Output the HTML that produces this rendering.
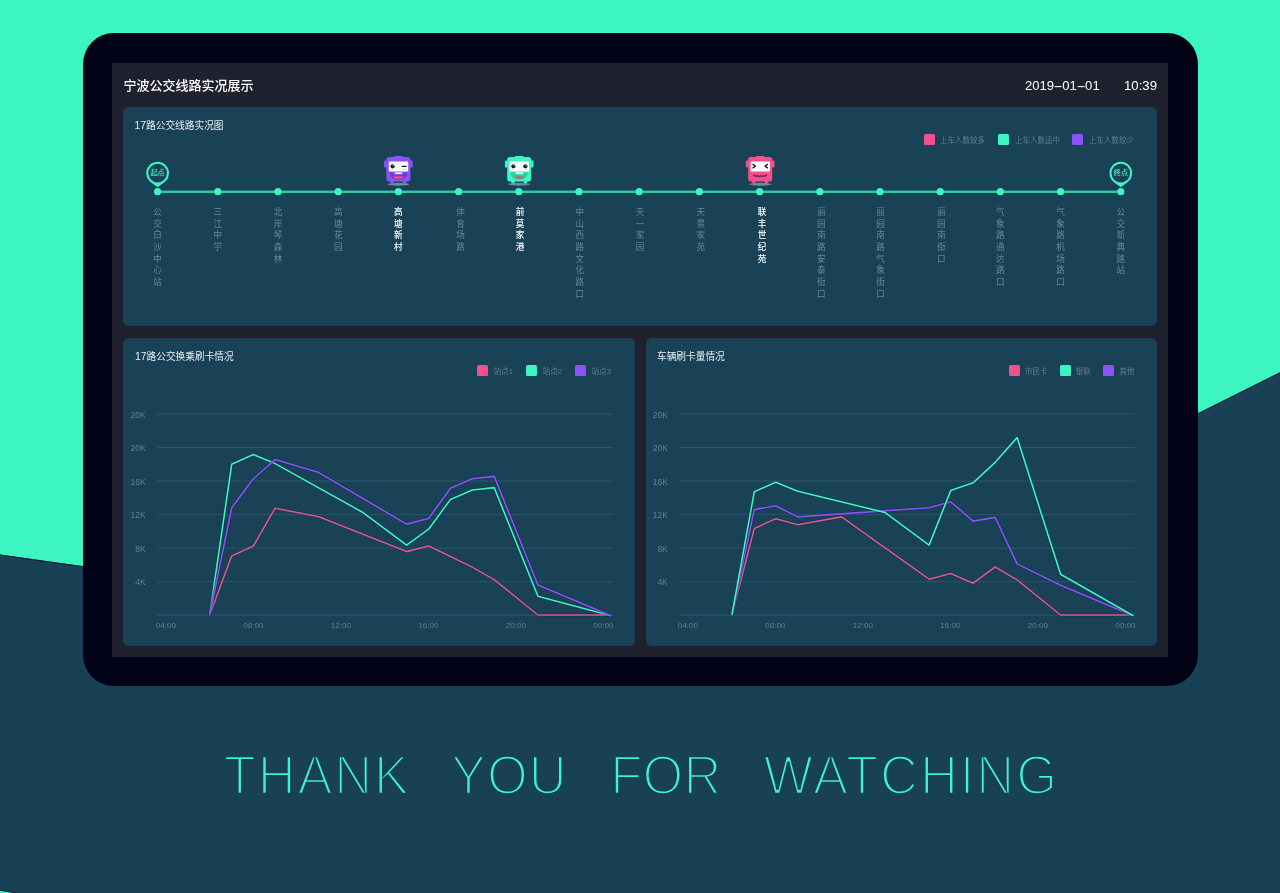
<!DOCTYPE html>
<html lang="zh-CN"><head><meta charset="utf-8"><title>宁波公交线路实况展示</title>
<style>
html,body{margin:0;padding:0}
body{width:1280px;height:893px;position:relative;overflow:hidden;background:#194156;font-family:"Liberation Sans","Noto Sans CJK SC",sans-serif;}
.abs{position:absolute}
#bg{position:absolute;left:0;top:0}
#tablet{position:absolute;left:83px;top:33px;width:1115px;height:653px;background:#030318;border-radius:31px}
#screen{position:absolute;left:112px;top:63px;width:1056px;height:594px;background:#20212f}
.panel{position:absolute;background:#194257;border-radius:6px}
.t{position:absolute;white-space:nowrap;line-height:1}
.title{color:#fff;font-weight:500;font-size:13px;left:123.5px;top:78.6px}
.ptitle{color:#e6edf1;font-size:9.7px}
.lg{position:absolute;width:11px;height:11px;border-radius:1.5px}
.lgt{position:absolute;white-space:nowrap;line-height:1;font-size:7.5px;color:#62808f}
.st{position:absolute;top:207px;width:12px;font-size:8.6px;line-height:11.65px;color:#6b8798;text-align:center;word-break:break-all;font-weight:400}
.st.hi{color:#fff;font-weight:500}
.ax{position:absolute;white-space:nowrap;line-height:1;font-size:8.5px;color:#5f8094}
svg text{font-family:"Liberation Sans","Noto Sans CJK SC",sans-serif}
.ty{position:absolute;top:747.0px;transform:scaleY(1.065);transform-origin:0 0;white-space:nowrap;line-height:1;font-size:52.5px;color:#3cf3d6;-webkit-text-stroke:2.5px #194156}
</style></head><body>

<svg id="bg" width="1280" height="893" viewBox="0 0 1280 893"><path d="M0 0H1280V372.3L1198 413.3C1000 512 500 624 83 566.2L60 563.1L0 554.6Z" fill="#3cf5c1"/><path d="M0 555L60 563.5L83 566.6M1198 413.7L1280 372.7" stroke="#0a1838" stroke-width="1" fill="none"/><path d="M0 890.6L15 893H0Z" fill="#3cf5c1"/><path d="M0 890.3L15 892.7" stroke="#0a1838" stroke-width=".8" fill="none"/></svg>
<div id="tablet"></div><div id="screen"></div>
<div class="t title">宁波公交线路实况展示</div>
<div class="t" style="left:1025px;top:78.6px;color:#fff;font-size:13.1px">2019<span style="display:inline-block;transform:scaleX(2.1);width:8.2px;text-align:center">-</span>01<span style="display:inline-block;transform:scaleX(2.1);width:8.2px;text-align:center">-</span>01</div>
<div class="t" style="left:1124px;top:78.6px;color:#fff;font-size:13.2px">10:39</div>
<div class="panel" style="left:123.2px;top:107px;width:1033.8px;height:219px"></div>
<div class="panel" style="left:123.2px;top:338px;width:511.4px;height:308px"></div>
<div class="panel" style="left:646px;top:338px;width:511px;height:308px"></div>
<div class="t ptitle" style="left:134.5px;top:120.9px"><span style="font-size:10.4px">17</span>路公交线路实况图</div>
<div class="t ptitle" style="left:135px;top:352px"><span style="font-size:10.4px">17</span>路公交换乘刷卡情况</div>
<div class="t ptitle" style="left:657px;top:352px">车辆刷卡量情况</div>
<div class="lg" style="left:923.6px;top:134.2px;background:#f4508b"></div>
<div class="lgt" style="left:940.0px;top:136.7px">上车人数较多</div>
<div class="lg" style="left:998.2px;top:134.2px;background:#3cf5c1"></div>
<div class="lgt" style="left:1015.0px;top:136.7px">上车人数适中</div>
<div class="lg" style="left:1072.2px;top:134.2px;background:#8b52f6"></div>
<div class="lgt" style="left:1089.0px;top:136.7px">上车人数较少</div>
<div class="lg" style="left:477.0px;top:365.4px;background:#f4508b"></div>
<div class="lgt" style="left:493.7px;top:367.9px">站点1</div>
<div class="lg" style="left:526.0px;top:365.4px;background:#3cf5c1"></div>
<div class="lgt" style="left:542.7px;top:367.9px">站点2</div>
<div class="lg" style="left:575.0px;top:365.4px;background:#8b52f6"></div>
<div class="lgt" style="left:591.7px;top:367.9px">站点3</div>
<div class="lg" style="left:1008.6px;top:365.4px;background:#f4508b"></div>
<div class="lgt" style="left:1025.0px;top:367.9px">市民卡</div>
<div class="lg" style="left:1059.6px;top:365.4px;background:#3cf5c1"></div>
<div class="lgt" style="left:1075.8px;top:367.9px">银联</div>
<div class="lg" style="left:1102.8px;top:365.4px;background:#8b52f6"></div>
<div class="lgt" style="left:1119.5px;top:367.9px">其他</div>
<div class="st" style="left:151.6px">公交白沙中心站</div>
<div class="st" style="left:211.8px">三江中学</div>
<div class="st" style="left:272.0px">北岸琴森林</div>
<div class="st" style="left:332.2px">高塘花园</div>
<div class="st hi" style="left:392.4px">高塘新村</div>
<div class="st" style="left:454.5px">体育场路</div>
<div class="st hi" style="left:514.1px">前莫家港</div>
<div class="st" style="left:573.8px">中山西路文化路口</div>
<div class="st" style="left:634.0px">天一家园</div>
<div class="st" style="left:694.7px">天景家苑</div>
<div class="st hi" style="left:756.0px">联丰世纪苑</div>
<div class="st" style="left:815.3px">丽园南路安泰街口</div>
<div class="st" style="left:874.5px">丽园南路气象街口</div>
<div class="st" style="left:935.2px">丽园南街口</div>
<div class="st" style="left:994.4px">气象路通达路口</div>
<div class="st" style="left:1054.6px">气象路机场路口</div>
<div class="st" style="left:1114.8px">公交新典路站</div>
<div class="ax" style="left:115.6px;top:410.6px;width:30px;text-align:right">20K</div>
<div class="ax" style="left:115.6px;top:444.1px;width:30px;text-align:right">20K</div>
<div class="ax" style="left:115.6px;top:477.6px;width:30px;text-align:right">16K</div>
<div class="ax" style="left:115.6px;top:511.2px;width:30px;text-align:right">12K</div>
<div class="ax" style="left:115.6px;top:544.7px;width:30px;text-align:right">8K</div>
<div class="ax" style="left:115.6px;top:578.3px;width:30px;text-align:right">4K</div>
<div class="ax" style="left:145.8px;top:622.1px;width:40px;text-align:center;font-size:8.1px">04:00</div>
<div class="ax" style="left:233.3px;top:622.1px;width:40px;text-align:center;font-size:8.1px">08:00</div>
<div class="ax" style="left:320.8px;top:622.1px;width:40px;text-align:center;font-size:8.1px">12:00</div>
<div class="ax" style="left:408.3px;top:622.1px;width:40px;text-align:center;font-size:8.1px">16:00</div>
<div class="ax" style="left:495.8px;top:622.1px;width:40px;text-align:center;font-size:8.1px">20:00</div>
<div class="ax" style="left:583.3px;top:622.1px;width:40px;text-align:center;font-size:8.1px">00:00</div>
<div class="ax" style="left:637.8px;top:410.6px;width:30px;text-align:right">20K</div>
<div class="ax" style="left:637.8px;top:444.1px;width:30px;text-align:right">20K</div>
<div class="ax" style="left:637.8px;top:477.6px;width:30px;text-align:right">16K</div>
<div class="ax" style="left:637.8px;top:511.2px;width:30px;text-align:right">12K</div>
<div class="ax" style="left:637.8px;top:544.7px;width:30px;text-align:right">8K</div>
<div class="ax" style="left:637.8px;top:578.3px;width:30px;text-align:right">4K</div>
<div class="ax" style="left:668.0px;top:622.1px;width:40px;text-align:center;font-size:8.1px">04:00</div>
<div class="ax" style="left:755.5px;top:622.1px;width:40px;text-align:center;font-size:8.1px">08:00</div>
<div class="ax" style="left:843.0px;top:622.1px;width:40px;text-align:center;font-size:8.1px">12:00</div>
<div class="ax" style="left:930.5px;top:622.1px;width:40px;text-align:center;font-size:8.1px">16:00</div>
<div class="ax" style="left:1018.0px;top:622.1px;width:40px;text-align:center;font-size:8.1px">20:00</div>
<div class="ax" style="left:1105.5px;top:622.1px;width:40px;text-align:center;font-size:8.1px">00:00</div>
<svg class="abs" style="left:0;top:0" width="1280" height="893" viewBox="0 0 1280 893"><line x1="157.6" y1="191.7" x2="1120.8" y2="191.7" stroke="#0b1c38" stroke-opacity=".3" stroke-width="4.2"/><line x1="157.6" y1="191.7" x2="1120.8" y2="191.7" stroke="#2ccaa4" stroke-width="2.6"/><circle cx="157.6" cy="191.7" r="3.6" fill="#3cf5c1"/><circle cx="217.8" cy="191.7" r="3.6" fill="#3cf5c1"/><circle cx="278.0" cy="191.7" r="3.6" fill="#3cf5c1"/><circle cx="338.2" cy="191.7" r="3.6" fill="#3cf5c1"/><circle cx="398.4" cy="191.7" r="3.6" fill="#3cf5c1"/><circle cx="458.6" cy="191.7" r="3.6" fill="#3cf5c1"/><circle cx="518.8" cy="191.7" r="3.6" fill="#3cf5c1"/><circle cx="579.0" cy="191.7" r="3.6" fill="#3cf5c1"/><circle cx="639.2" cy="191.7" r="3.6" fill="#3cf5c1"/><circle cx="699.4" cy="191.7" r="3.6" fill="#3cf5c1"/><circle cx="759.6" cy="191.7" r="3.6" fill="#3cf5c1"/><circle cx="819.8" cy="191.7" r="3.6" fill="#3cf5c1"/><circle cx="880.0" cy="191.7" r="3.6" fill="#3cf5c1"/><circle cx="940.2" cy="191.7" r="3.6" fill="#3cf5c1"/><circle cx="1000.4" cy="191.7" r="3.6" fill="#3cf5c1"/><circle cx="1060.6" cy="191.7" r="3.6" fill="#3cf5c1"/><circle cx="1120.8" cy="191.7" r="3.6" fill="#3cf5c1"/><g><path d="M157.60 187.3 L150.83 182.15 A11.3 11.3 0 1 1 164.37 182.15 Z" fill="#3cf5c1"/><circle cx="157.60" cy="173.1" r="9.3" fill="#194257"/><text x="157.60" y="174.9" text-anchor="middle" font-size="7.2" font-weight="500" fill="#3cf5c1">起点</text></g><g><path d="M1120.80 187.3 L1114.03 182.15 A11.3 11.3 0 1 1 1127.57 182.15 Z" fill="#3cf5c1"/><circle cx="1120.80" cy="173.1" r="9.3" fill="#194257"/><text x="1120.80" y="174.9" text-anchor="middle" font-size="7.2" font-weight="500" fill="#3cf5c1">终点</text></g><g transform="translate(386.4,156)"><ellipse cx="12" cy="28.2" rx="11" ry="1.5" fill="#8fa3ad" opacity=".75"/><rect x="-2.3" y="4.6" width="3" height="7" rx="1" fill="#8b52f6"/><rect x="23.3" y="4.6" width="3" height="7" rx="1" fill="#8b52f6"/><rect x="4" y="24" width="3.4" height="3.2" rx=".6" fill="#8b52f6"/><rect x="16.6" y="24" width="3.4" height="3.2" rx=".6" fill="#8b52f6"/><rect x="7.6" y="0" width="8.8" height="3" rx="1" fill="#8b52f6"/><rect x="0" y="1" width="24" height="24.4" rx="2.6" fill="#8b52f6"/><rect x="2.4" y="5.6" width="19.4" height="9.8" rx="1" fill="#fff"/><path d="M2.9 16.2H21.3Q20.8 23.7 12.1 23.7Q3.4 23.7 2.9 16.2Z" fill="#6a36c9" opacity=".75"/><rect x="8.4" y="16.4" width="7.4" height="1.7" fill="#fff"/><ellipse cx="12" cy="21.4" rx="4.6" ry="1.1" fill="#ff4f7f"/><circle cx="6.2" cy="10.3" r="2.1" fill="#0b1e33"/><circle cx="6.8" cy="9.6" r=".5" fill="#fff"/><rect x="15.2" y="9.7" width="5.2" height="1.3" rx=".6" fill="#0b1e33"/><ellipse cx="5.5" cy="13.4" rx="1.8" ry=".7" fill="#ffc9d6"/><ellipse cx="18.3" cy="13.4" rx="1.8" ry=".7" fill="#ffc9d6"/></g><g transform="translate(507.2,156)"><ellipse cx="12" cy="28.2" rx="11" ry="1.5" fill="#8fa3ad" opacity=".75"/><rect x="-2.3" y="4.6" width="3" height="7" rx="1" fill="#3cf5c1"/><rect x="23.3" y="4.6" width="3" height="7" rx="1" fill="#3cf5c1"/><rect x="4" y="24" width="3.4" height="3.2" rx=".6" fill="#3cf5c1"/><rect x="16.6" y="24" width="3.4" height="3.2" rx=".6" fill="#3cf5c1"/><rect x="7.6" y="0" width="8.8" height="3" rx="1" fill="#3cf5c1"/><rect x="0" y="1" width="24" height="24.4" rx="2.6" fill="#3cf5c1"/><rect x="2.4" y="5.6" width="19.4" height="9.8" rx="1" fill="#fff"/><path d="M3.2 16.2H20.8Q20.3 23.7 12 23.7Q3.7 23.7 3.2 16.2Z" fill="#2bc79a" opacity=".8"/><rect x="8.4" y="16.4" width="7.4" height="1.7" fill="#fff"/><ellipse cx="12" cy="21.4" rx="4.6" ry="1.1" fill="#ff3f7a"/><circle cx="6.2" cy="10.3" r="2.1" fill="#0b1e33"/><circle cx="6.8" cy="9.6" r=".5" fill="#fff"/><circle cx="18.2" cy="10.3" r="2.1" fill="#0b1e33"/><circle cx="18.8" cy="9.6" r=".5" fill="#fff"/><ellipse cx="5.2" cy="13.8" rx="1.8" ry=".6" fill="#ffd9e2"/><ellipse cx="19" cy="13.8" rx="1.8" ry=".6" fill="#ffd9e2"/></g><g transform="translate(748.2,156)"><ellipse cx="12" cy="28.2" rx="11" ry="1.5" fill="#8fa3ad" opacity=".75"/><rect x="-2.3" y="4.6" width="3" height="7" rx="1" fill="#f4508b"/><rect x="23.3" y="4.6" width="3" height="7" rx="1" fill="#f4508b"/><rect x="4" y="24" width="3.4" height="3.2" rx=".6" fill="#f4508b"/><rect x="16.6" y="24" width="3.4" height="3.2" rx=".6" fill="#f4508b"/><rect x="7.6" y="0" width="8.8" height="3" rx="1" fill="#f4508b"/><rect x="0" y="1" width="24" height="24.4" rx="2.6" fill="#f4508b"/><rect x="2.4" y="5.6" width="19.4" height="9.8" rx="1" fill="#fff"/><path d="M4.8 8.4 L7.3 10.2 L4.8 11.9 M19.3 8.4 L16.8 10.2 L19.3 11.9" fill="none" stroke="#0b1e33" stroke-width="1.3" stroke-linecap="round" stroke-linejoin="round"/><path d="M5.8 18.9 q1.6 2.2 3.2 .8 q1.5 1.6 3 0 q1.5 1.6 3 0 q1.6 1.4 3.2 -.8" fill="none" stroke="#4a1f4f" stroke-width="1.2" stroke-linecap="round"/></g><line x1="157.0" y1="414.0" x2="612.8" y2="414.0" stroke="#2c566b" stroke-width="1"/><line x1="157.0" y1="447.5" x2="612.8" y2="447.5" stroke="#2c566b" stroke-width="1"/><line x1="157.0" y1="481.0" x2="612.8" y2="481.0" stroke="#2c566b" stroke-width="1"/><line x1="157.0" y1="514.6" x2="612.8" y2="514.6" stroke="#2c566b" stroke-width="1"/><line x1="157.0" y1="548.1" x2="612.8" y2="548.1" stroke="#2c566b" stroke-width="1"/><line x1="157.0" y1="581.7" x2="612.8" y2="581.7" stroke="#2c566b" stroke-width="1"/><line x1="157.0" y1="615.2" x2="612.8" y2="615.2" stroke="#2c566b" stroke-width="1"/><line x1="679.2" y1="414.0" x2="1135.0" y2="414.0" stroke="#2c566b" stroke-width="1"/><line x1="679.2" y1="447.5" x2="1135.0" y2="447.5" stroke="#2c566b" stroke-width="1"/><line x1="679.2" y1="481.0" x2="1135.0" y2="481.0" stroke="#2c566b" stroke-width="1"/><line x1="679.2" y1="514.6" x2="1135.0" y2="514.6" stroke="#2c566b" stroke-width="1"/><line x1="679.2" y1="548.1" x2="1135.0" y2="548.1" stroke="#2c566b" stroke-width="1"/><line x1="679.2" y1="581.7" x2="1135.0" y2="581.7" stroke="#2c566b" stroke-width="1"/><line x1="679.2" y1="615.2" x2="1135.0" y2="615.2" stroke="#2c566b" stroke-width="1"/><polyline points="209.7,615.0 231.7,555.9 253.4,546.0 275.1,508.2 318.8,516.7 406.6,551.6 428.6,546.0 450.5,556.5 472.3,567.1 494.2,579.6 537.9,615.0 611.1,615.0" fill="none" stroke="#0b1c38" stroke-opacity=".35" stroke-width="2.8" stroke-linejoin="round"/><polyline points="209.7,615.0 231.7,555.9 253.4,546.0 275.1,508.2 318.8,516.7 406.6,551.6 428.6,546.0 450.5,556.5 472.3,567.1 494.2,579.6 537.9,615.0 611.1,615.0" fill="none" stroke="#d9588d" stroke-width="1.6" stroke-linejoin="round"/><polyline points="209.7,615.0 231.7,464.3 253.4,454.6 275.1,463.6 362.4,512.2 406.6,545.1 428.6,529.2 450.5,499.4 472.3,490.0 494.2,487.6 537.9,596.2 611.1,615.7" fill="none" stroke="#0b1c38" stroke-opacity=".35" stroke-width="2.8" stroke-linejoin="round"/><polyline points="209.7,615.0 231.7,464.3 253.4,454.6 275.1,463.6 362.4,512.2 406.6,545.1 428.6,529.2 450.5,499.4 472.3,490.0 494.2,487.6 537.9,596.2 611.1,615.7" fill="none" stroke="#3cf5c1" stroke-width="1.6" stroke-linejoin="round"/><polyline points="209.7,615.0 231.7,507.7 253.4,478.8 275.1,459.6 318.8,472.6 406.6,524.1 428.6,518.5 450.5,488.2 472.3,478.8 494.2,476.4 537.9,585.0 611.1,615.7" fill="none" stroke="#0b1c38" stroke-opacity=".35" stroke-width="2.8" stroke-linejoin="round"/><polyline points="209.7,615.0 231.7,507.7 253.4,478.8 275.1,459.6 318.8,472.6 406.6,524.1 428.6,518.5 450.5,488.2 472.3,478.8 494.2,476.4 537.9,585.0 611.1,615.7" fill="none" stroke="#8b52f6" stroke-width="1.6" stroke-linejoin="round"/><polyline points="731.9,615.0 754.3,528.4 775.7,518.8 797.8,524.7 841.5,516.9 929.1,579.2 950.7,573.6 973.1,583.2 995.2,567.0 1017.1,579.9 1060.6,615.0 1133.3,615.0" fill="none" stroke="#0b1c38" stroke-opacity=".35" stroke-width="2.8" stroke-linejoin="round"/><polyline points="731.9,615.0 754.3,528.4 775.7,518.8 797.8,524.7 841.5,516.9 929.1,579.2 950.7,573.6 973.1,583.2 995.2,567.0 1017.1,579.9 1060.6,615.0 1133.3,615.0" fill="none" stroke="#d9588d" stroke-width="1.6" stroke-linejoin="round"/><polyline points="731.9,615.0 754.3,509.6 775.7,505.8 797.8,516.9 929.1,507.7 950.7,501.8 973.1,521.1 995.2,517.4 1017.1,563.9 1060.6,585.3 1133.3,615.7" fill="none" stroke="#0b1c38" stroke-opacity=".35" stroke-width="2.8" stroke-linejoin="round"/><polyline points="731.9,615.0 754.3,509.6 775.7,505.8 797.8,516.9 929.1,507.7 950.7,501.8 973.1,521.1 995.2,517.4 1017.1,563.9 1060.6,585.3 1133.3,615.7" fill="none" stroke="#8b52f6" stroke-width="1.6" stroke-linejoin="round"/><polyline points="731.9,615.0 754.3,491.7 775.7,482.3 797.8,491.3 884.8,512.4 929.1,545.1 950.7,490.6 973.1,482.8 995.2,462.3 1017.1,437.6 1060.6,574.3 1133.3,615.7" fill="none" stroke="#0b1c38" stroke-opacity=".35" stroke-width="2.8" stroke-linejoin="round"/><polyline points="731.9,615.0 754.3,491.7 775.7,482.3 797.8,491.3 884.8,512.4 929.1,545.1 950.7,490.6 973.1,482.8 995.2,462.3 1017.1,437.6 1060.6,574.3 1133.3,615.7" fill="none" stroke="#3cf5c1" stroke-width="1.6" stroke-linejoin="round"/></svg>
<div class="ty" id="w_THANK" style="left:223.8px;letter-spacing:1.85px">THANK</div>
<div class="ty" id="w_YOU" style="left:451.0px;letter-spacing:0.90px">YOU</div>
<div class="ty" id="w_FOR" style="left:610.2px;letter-spacing:0.20px">FOR</div>
<div class="ty" id="w_WATCHING" style="left:763.5px;letter-spacing:1.93px">WATCHING</div>
</body></html>
